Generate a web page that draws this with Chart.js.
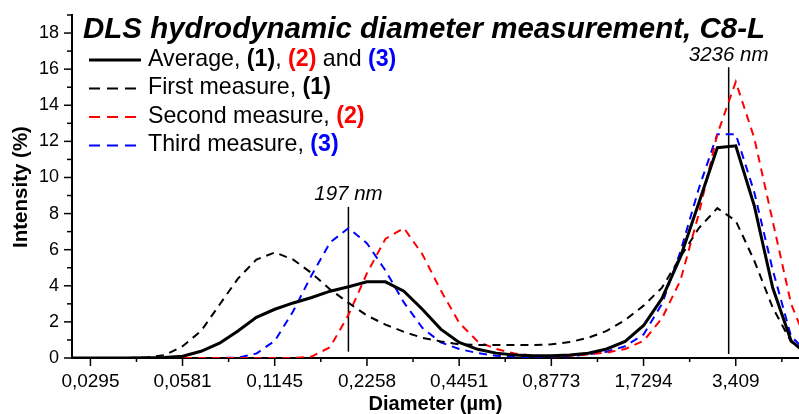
<!DOCTYPE html>
<html><head><meta charset="utf-8">
<script src="https://cdn.jsdelivr.net/npm/chart.js@4"></script>
<style>html,body{margin:0;padding:0;background:#fff;}canvas{display:block;}</style>
</head><body>
<canvas id="c" width="799" height="414" style="width:799px;height:414px"></canvas>
<script>
// Bin diameters (µm)
const diameters = [0.025756,0.0295,0.033788,0.038699,0.044324,0.050766,0.058145,0.066596,0.076276,0.087363,0.100061,
  0.114606,0.131264,0.150343,0.172195,0.197224,0.225892,0.258727,0.296333,0.339404,0.388736,
  0.44524,0.509958,0.584082,0.66898,0.766216,0.877582,1.00514,1.151238,1.318571,1.510226,
  1.72974,1.98115,2.269111,2.598927,2.976681,3.40937,3.904922,4.4725,5.1226,5.867172];
// Intensity (%)
const average = [0,0,0,0,0.01,0.03,0.1,0.37,0.82,1.5,2.25,
  2.7,3.05,3.35,3.7,3.95,4.22,4.22,3.7,2.7,1.6,
  0.86,0.48,0.27,0.17,0.13,0.13,0.16,0.26,0.5,0.92,
  1.8,3.3,5.6,8.6,11.65,11.75,8.45,3.9,0.95,0.1];
const firstMeasure = [0,0,0,0,0.02,0.15,0.65,1.5,2.95,4.4,5.45,
  5.85,5.45,4.7,3.8,3.05,2.35,1.85,1.45,1.12,0.92,
  0.76,0.72,0.72,0.72,0.72,0.76,0.88,1.12,1.5,2.1,
  2.9,3.9,5.6,7.2,8.3,7.6,5.4,2.8,0.9,0.2];
const secondMeasure = [0,0,0,0,0,0,0,0,0,0,0,
  0,0,0.08,0.6,2.4,4.7,6.6,7.2,5.75,3.75,
  1.95,0.92,0.5,0.25,0.13,0.09,0.12,0.2,0.3,0.5,
  0.95,2.2,4.3,8.0,12.4,15.3,12.2,7.6,3.0,0.5];
const thirdMeasure = [0,0,0,0,0,0,0,0,0,0.02,0.25,
  0.95,2.6,4.6,6.4,7.2,6.35,4.85,3.08,1.67,0.86,
  0.5,0.27,0.13,0.07,0.06,0.07,0.1,0.2,0.35,0.65,
  1.3,3.0,5.9,9.4,12.4,12.4,9.2,4.9,1.2,0.2];
const xTickValues = [0.0295,0.0581,0.1145,0.2258,0.4451,0.8773,1.7294,3.409];
const xTickLabels = ['0,0295','0,0581','0,1145','0,2258','0,4451','0,8773','1,7294','3,409'];
const yTickValues = [0,2,4,6,8,10,12,14,16,18];
const peakDiameters = [0.197, 3.236];
const peakTops = [8.37, 16.1];
const peakBottoms = [0.35, 0.22];
const peakLabels = ['197 nm', '3236 nm'];
const titleText = 'DLS hydrodynamic diameter measurement, C8-L';
const xTitle = 'Diameter (µm)';
const yTitle = 'Intensity (%)';

const pts = arr => diameters.map((d,i)=>({x:d,y:arr[i]}));
const datasets = [
  {data:pts(average), borderColor:'#000', borderWidth:3},
  {data:pts(firstMeasure), borderColor:'#000', borderWidth:2, borderDash:[8,6]},
  {data:pts(secondMeasure), borderColor:'#ff0000', borderWidth:2, borderDash:[8,6]},
  {data:pts(thirdMeasure), borderColor:'#0000ff', borderWidth:2, borderDash:[8,6]},
];
peakDiameters.forEach((d,i)=>{
  datasets.push({data:[{x:d,y:peakBottoms[i]},{x:d,y:peakTops[i]}], borderColor:'#000', borderWidth:1.5});
});
datasets.forEach(ds=>{ds.pointRadius=0; ds.tension=0; ds.fill=false;});

const FONT = '"Liberation Sans", Arial, sans-serif';

const decor = {
  id:'decor',
  afterDraw(chart){
    const {ctx, chartArea:ca} = chart;
    const x = chart.scales.x, y = chart.scales.y;
    ctx.save();
    ctx.strokeStyle = '#000'; ctx.lineWidth = 1.5; ctx.setLineDash([]);
    for (let v = 0; v <= 19; v++) {
      const py = y.getPixelForValue(v);
      const len = (v % 2 === 0) ? 8 : 5;
      ctx.beginPath(); ctx.moveTo(ca.left - len, py); ctx.lineTo(ca.left, py); ctx.stroke();
    }
    xTickValues.forEach((v,i)=>{
      const px = x.getPixelForValue(v);
      ctx.beginPath(); ctx.moveTo(px, ca.bottom); ctx.lineTo(px, ca.bottom + 8); ctx.stroke();
      const next = i < xTickValues.length - 1 ? xTickValues[i+1] : v * v / xTickValues[i-1];
      const pm = x.getPixelForValue(Math.sqrt(v * next));
      if (pm < ca.right) { ctx.beginPath(); ctx.moveTo(pm, ca.bottom); ctx.lineTo(pm, ca.bottom + 4); ctx.stroke(); }
    });
    ctx.fillStyle = '#000';
    ctx.textBaseline = 'alphabetic';
    ctx.textAlign = 'left';
    ctx.font = 'italic bold 29.5px ' + FONT;
    ctx.fillText(titleText, 83, 37.5);
    ctx.font = 'bold 20px ' + FONT;
    ctx.textAlign = 'center';
    ctx.fillText(xTitle, (ca.left + ca.right) / 2, 410);
    ctx.save();
    ctx.font = 'bold 20.5px ' + FONT;
    ctx.translate(27, 187);
    ctx.rotate(-Math.PI / 2);
    ctx.fillText(yTitle, 0, 0);
    ctx.restore();
    ctx.font = 'italic 20.5px ' + FONT;
    peakDiameters.forEach((d,i)=>{
      const px = x.getPixelForValue(d);
      const py = y.getPixelForValue(peakTops[i]);
      ctx.fillText(peakLabels[i], px, py - 6.5);
    });
    const rows = [
      {dash:[], color:'#000', w:3, parts:[['Average, ','#000',false],['(1)','#000',true],[', ','#000',false],['(2)','#ff0000',true],[' and ','#000',false],['(3)','#0000ff',true]]},
      {dash:[11,7], color:'#000', w:2, parts:[['First measure, ','#000',false],['(1)','#000',true]]},
      {dash:[11,7], color:'#ff0000', w:2, parts:[['Second measure, ','#000',false],['(2)','#ff0000',true]]},
      {dash:[11,7], color:'#0000ff', w:2, parts:[['Third measure, ','#000',false],['(3)','#0000ff',true]]},
    ];
    ctx.textAlign = 'left';
    rows.forEach((r,i)=>{
      const base = 65.7 + i * 28.5;
      const ly = base - 5.7;
      ctx.setLineDash(r.dash); ctx.strokeStyle = r.color; ctx.lineWidth = r.w;
      ctx.beginPath(); ctx.moveTo(89, ly); ctx.lineTo(i === 0 ? 141 : 137, ly); ctx.stroke();
      ctx.setLineDash([]);
      let tx = 148;
      r.parts.forEach(([t,c,b])=>{
        ctx.font = (b ? 'bold ' : '') + '23.2px ' + FONT;
        ctx.fillStyle = c;
        ctx.fillText(t, tx, base);
        tx += ctx.measureText(t).width;
      });
    });
    ctx.restore();
  }
};

const noPad = s => { s.paddingTop = 0; s.paddingBottom = 0; s.paddingLeft = 0; s.paddingRight = 0; };

new Chart(document.getElementById('c'), {
  type:'line',
  data:{datasets},
  options:{
    responsive:false, animation:false, devicePixelRatio:1,
    layout:{padding:{left:0,right:0,top:15,bottom:0}},
    plugins:{legend:{display:false}, tooltip:{enabled:false}, title:{display:false}},
    scales:{
      x:{type:'logarithmic', min:0.025756, max:5.43,
        afterBuildTicks:s=>{s.ticks = xTickValues.map(v=>({value:v}));},
        afterFit:s=>{s.height = 56; noPad(s);},
        ticks:{autoSkip:false, maxRotation:0, minRotation:0, padding:12, color:'#000',
          font:{family:'"Liberation Sans Narrow", "Arial Narrow", ' + FONT, size:19},
          callback:(v,i)=>xTickLabels[i]},
        grid:{display:false, drawTicks:false},
        border:{display:true, color:'#000', width:2}},
      y:{type:'linear', min:0, max:19,
        afterBuildTicks:s=>{s.ticks = yTickValues.map(v=>({value:v}));},
        afterFit:s=>{s.width = 72; noPad(s);},
        ticks:{padding:13, color:'#000', font:{family:FONT, size:18}, callback:v=>String(v)},
        grid:{display:false, drawTicks:false},
        border:{display:true, color:'#000', width:2}}
    }
  },
  plugins:[decor]
});
</script>
</body></html>
